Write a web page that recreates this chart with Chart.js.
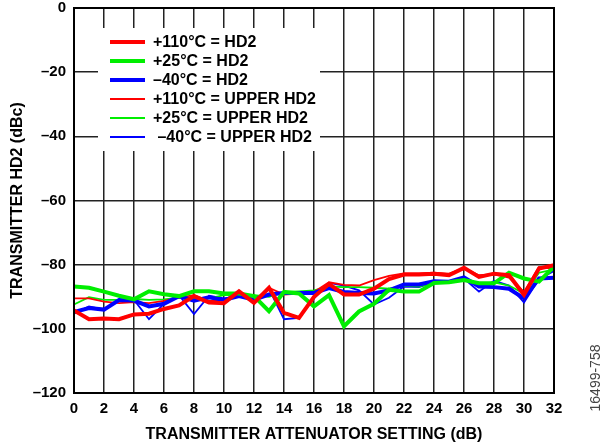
<!DOCTYPE html>
<html>
<head>
<meta charset="utf-8">
<script src="https://cdn.jsdelivr.net/npm/chart.js@4.4.1/dist/chart.umd.min.js"></script>
<style>
  html, body { margin: 0; padding: 0; background: #fff; }
  #wrap { width: 605px; height: 446px; position: relative; }
</style>
</head>
<body>
<div id="wrap"><canvas id="c" width="605" height="446"></canvas></div>
<script>
// Transmitter attenuator setting (dB)
const attenuation = [0,1,2,3,4,5,6,7,8,9,10,11,12,13,14,15,16,17,18,19,20,21,22,23,24,25,26,27,28,29,30,31,32];

// HD2 (dBc)
const hd2_110 = [-94.3,-97.0,-96.8,-97.0,-95.5,-95.3,-93.8,-92.7,-89.8,-91.8,-92.0,-88.3,-91.9,-87.2,-95.0,-96.6,-90.0,-86.0,-89.3,-89.3,-87.5,-84.5,-83.1,-83.1,-82.8,-83.3,-81.0,-83.8,-82.8,-83.3,-89.4,-81.2,-80.2];
const hd2_25  = [-86.8,-87.2,-88.4,-89.7,-90.8,-88.3,-89.2,-89.8,-88.3,-88.3,-89.0,-89.0,-89.8,-94.5,-88.5,-89.0,-93.0,-89.5,-99.2,-94.6,-92.2,-87.8,-88.4,-88.4,-85.7,-85.5,-84.8,-85.8,-85.8,-82.5,-84.3,-85.3,-80.6];
const hd2_m40 = [-94.8,-93.5,-94.0,-91.0,-91.2,-93.0,-92.2,-89.8,-91.2,-90.2,-91.0,-89.8,-90.9,-89.3,-88.8,-88.8,-88.8,-87.3,-88.5,-88.8,-89.0,-88.0,-86.2,-86.2,-85.2,-85.3,-84.0,-86.8,-87.0,-87.5,-90.5,-84.3,-84.1];

// Upper HD2 (dBc)
const up_110 = [-90.5,-90.5,-91.5,-92.0,-91.7,-92.0,-91.3,-90.3,-89.5,-91.3,-91.0,-88.5,-91.5,-87.2,-89.3,-89.0,-88.5,-85.5,-86.3,-86.5,-84.8,-83.5,-82.7,-82.7,-82.5,-82.8,-81.0,-83.3,-83.0,-84.0,-88.5,-80.7,-81.3];
const up_25  = [-92.4,-90.1,-91.0,-91.0,-90.7,-91.0,-90.8,-90.3,-90.5,-90.5,-89.5,-89.5,-89.5,-90.0,-88.5,-88.3,-88.0,-86.8,-87.0,-87.0,-87.2,-87.5,-86.6,-86.8,-85.5,-85.3,-84.5,-86.0,-85.5,-86.5,-89.0,-82.5,-81.5];
const up_m40 = [-95.3,-93.0,-94.0,-91.0,-91.0,-97.0,-92.2,-89.5,-95.4,-89.7,-90.5,-89.8,-91.0,-87.5,-97.0,-96.6,-90.5,-85.7,-86.5,-88.0,-92.4,-90.3,-86.8,-87.0,-85.5,-85.5,-84.3,-88.4,-85.0,-86.5,-91.8,-84.5,-82.0];

const seriesLabels = ['+110°C = HD2','+25°C = HD2','–40°C = HD2','+110°C = UPPER HD2','+25°C = UPPER HD2',' –40°C = UPPER HD2'];
const xTicks = [0,2,4,6,8,10,12,14,16,18,20,22,24,26,28,30,32];
const yTicks = [0,-20,-40,-60,-80,-100,-120];

const RED = '#ff0000', GREEN = '#00ee00', BLUE = '#0000ff';
const FONT = '"Liberation Sans", Arial, sans-serif';

function pts(arr) { return attenuation.map((x, i) => ({ x: x, y: arr[i] })); }

function ds(label, arr, color, width) {
  return { label, data: pts(arr), borderColor: color, backgroundColor: color,
           borderWidth: width, pointRadius: 0, tension: 0, fill: false };
}

const legendBox = {
  id: 'legendBox',
  afterDraw(chart) {
    const ctx = chart.ctx, ca = chart.chartArea;
    ctx.save();
    const bx = ca.left + 24, by = ca.top + 20;
    ctx.fillStyle = '#fff';
    ctx.fillRect(bx, by, 222, 123);
    ctx.font = 'bold 16px ' + FONT;
    ctx.textBaseline = 'middle';
    chart.data.datasets.forEach((d, i) => {
      const y = by + 14 + i * 19;
      ctx.strokeStyle = d.borderColor;
      ctx.lineWidth = d.borderWidth;
      ctx.beginPath();
      ctx.moveTo(bx + 12, y);
      ctx.lineTo(bx + 47, y);
      ctx.stroke();
      ctx.fillStyle = '#000';
      ctx.fillText(d.label, bx + 55, y + 1);
    });
    // frame
    ctx.strokeStyle = '#000';
    ctx.lineWidth = 2;
    ctx.strokeRect(ca.left, ca.top, ca.right - ca.left, ca.bottom - ca.top);
    // figure number
    ctx.translate(596, 378);
    ctx.rotate(-Math.PI / 2);
    ctx.font = '14px ' + FONT;
    ctx.fillStyle = '#444';
    ctx.textAlign = 'center';
    ctx.textBaseline = 'middle';
    ctx.fillText('16499-758', 0, 0);
    ctx.restore();
  }
};

new Chart(document.getElementById('c'), {
  type: 'line',
  data: {
    datasets: [
      ds(seriesLabels[0], hd2_110, RED, 4),
      ds(seriesLabels[1], hd2_25, GREEN, 4),
      ds(seriesLabels[2], hd2_m40, BLUE, 4),
      ds(seriesLabels[3], up_110, RED, 1.8),
      ds(seriesLabels[4], up_25, GREEN, 1.8),
      ds(seriesLabels[5], up_m40, BLUE, 1.8)
    ]
  },
  options: {
    responsive: false,
    animation: false,
    devicePixelRatio: 1,
    layout: { padding: { top: 8, right: 51, left: 0, bottom: 0 } },
    plugins: { legend: { display: false }, tooltip: { enabled: false } },
    scales: {
      x: {
        type: 'linear', min: 0, max: 32,
        afterBuildTicks(s) { s.ticks = xTicks.map(v => ({ value: v })); },
        afterFit(s) { s.height = 53; s.paddingLeft = 0; s.paddingRight = 0; },
        grid: { color: '#222', lineWidth: 1.5, drawTicks: false },
        border: { display: false },
        ticks: { color: '#000', padding: 7, maxRotation: 0, autoSkip: false,
                 font: { family: FONT, size: 15, weight: 'bold' } },
        title: { display: true, text: 'TRANSMITTER ATTENUATOR SETTING (dB)', color: '#000',
                 padding: { top: 0, bottom: 2 },
                 font: { family: FONT, size: 16, weight: 'bold' } }
      },
      y: {
        type: 'linear', min: -120, max: 0,
        afterBuildTicks(s) { s.ticks = yTicks.map(v => ({ value: v })); },
        afterFit(s) { s.width = 74; s.paddingTop = 0; s.paddingBottom = 0; },
        grid: { color: '#222', lineWidth: 1.5, drawTicks: false },
        border: { display: false },
        ticks: { color: '#000', padding: 8, autoSkip: false,
                 font: { family: FONT, size: 15, weight: 'bold' },
                 callback: v => String(v).replace('-', '–') },
        title: { display: true, text: 'TRANSMITTER HD2 (dBc)', color: '#000',
                 padding: { top: 8, bottom: 0 },
                 font: { family: FONT, size: 16, weight: 'bold' } }
      }
    }
  },
  plugins: [legendBox]
});
</script>
</body>
</html>
